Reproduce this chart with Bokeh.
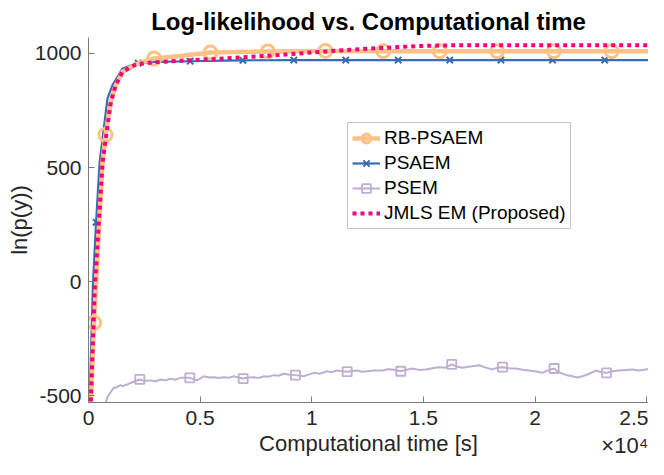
from bokeh.plotting import figure
from bokeh.models import Range1d, FixedTicker, Legend, LegendItem, LinearAxis
from bokeh.embed import file_html
from bokeh.resources import INLINE

# ---------------- data ----------------
title_text = "Log-likelihood vs. Computational time"
x_label = "Computational time [s]"
y_label = "ln(p(y))"
x_ticks = [0, 5000, 10000, 15000, 20000, 25000]
x_tick_labels = ["0", "0.5", "1", "1.5", "2", "2.5"]
x_exponent_label = "×10⁴"
y_ticks = [-500, 0, 500, 1000]
y_tick_labels = ["-500", "0", "500", "1000"]
series_names = ["RB-PSAEM", "PSAEM", "PSEM", "JMLS EM (Proposed)"]

# RB-PSAEM
rb_t = [95, 250, 450, 627, 760, 999, 1223, 1523, 2119, 2940, 4200, 5460, 8030, 10610,
        13200, 15730, 18300, 20840, 23430, 26000]
rb_y = [-560, -181, 200, 519, 643, 788, 861, 920, 952, 978, 990, 1004, 1009, 1011,
        1010, 1010, 1010, 1010, 1010, 1010]
rb_mark_t = [250, 760, 2940, 5460, 8030, 10610, 13200, 15730, 18300, 20840, 23430]
rb_mark_y = [-181, 643, 978, 1004, 1009, 1011, 1010, 1010, 1010, 1010, 1010]

# PSAEM
ps_t = [40, 200, 340, 500, 851, 1075, 1522, 2225, 3000, 4553, 6915, 9195, 11520,
        13870, 16180, 18470, 20780, 23120, 25400, 26000]
ps_y = [-560, -10, 260, 525, 803, 861, 934, 958, 963, 966, 970, 971, 971,
        971, 971, 971, 971, 971, 971, 971]
ps_mark_t = [340, 2225, 4553, 6915, 9195, 11520, 13870, 16180, 18470, 20780, 23120, 25400]
ps_mark_y = [260, 958, 966, 970, 971, 971, 971, 971, 971, 971, 971, 971]

# PSEM
psem_t = [720, 837, 927, 1133, 1223, 1433, 1522, 1733, 1823, 2029, 2297, 2500, 2777, 3000,
          3224, 3450, 3672, 3900, 4120, 4537, 4868, 5163, 5400, 5611, 5800, 6059, 6300,
          6507, 6928, 7150, 7403, 7600, 7851, 8050, 8299, 8500, 8746, 9000, 9270, 9642,
          9850, 10090, 10350, 10690, 10900, 11137, 11585, 11800, 12033, 12250, 12480,
          12800, 13166, 13400, 13614, 13986, 14250, 14510, 14800, 15105, 15400, 15704,
          15950, 16269, 16500, 16748, 17100, 17496, 17800, 18092, 18300, 18540, 18850,
          19136, 19450, 19735, 20050, 20331, 20600, 20855, 21050, 21227, 21450, 21675,
          21900, 22123, 22400, 22719, 22950, 23198, 23450, 23765, 24050, 24361, 24650,
          24957, 25250, 25526, 25800]
psem_y = [-545, -509, -494, -465, -465, -454, -458, -451, -447, -439, -429, -436, -433, -437,
          -429, -433, -426, -430, -422, -422, -433, -415, -420, -419, -423, -419, -421,
          -415, -425, -420, -419, -423, -415, -417, -410, -413, -404, -408, -410, -415,
          -408, -400, -404, -393, -397, -390, -395, -392, -390, -395, -393,
          -390, -390, -384, -385, -393, -386, -381, -387, -385, -380, -375,
          -378, -363, -372, -378, -372, -367, -377, -385, -378, -375, -380,
          -381, -386, -390, -394, -400, -388, -381, -397, -404, -411, -415,
          -420, -415, -405, -390, -397, -400, -393, -390, -388, -385, -390,
          -385, -383, -385, -388]
psem_mark_t = [2297, 4537, 6928, 9270, 11585, 13986, 16269, 18540, 20855, 23198, 25526]
psem_mark_y = [-429, -422, -425, -410, -395, -393, -363, -375, -381, -400, -385]

# JMLS EM (Proposed)
jm_t = [90, 282, 627, 999, 1223, 1523, 2119, 3000, 4120, 5500, 7255, 8500, 10390,
        11700, 13080, 14870, 16500, 26000]
jm_y = [-560, -28, 519, 788, 861, 920, 952, 962, 968, 975, 985, 993, 1007,
        1016, 1024, 1033, 1036, 1036]

# ---------------- styles ----------------
C_ORANGE = "#fdc086"
C_BLUE = "#386cb0"
C_PURPLE = "#beaed4"
C_MAGENTA = "#f0027f"
FONT = "Liberation Sans"
TXT = "#262626"
AX = "#7a7a7a"
EXP_POS = 24050  # where the exponent text sits along x

p = figure(width=648, height=459, output_backend="svg", toolbar_location=None,
           x_range=Range1d(0, 25080), y_range=Range1d(-530, 1070),
           min_border_left=88, min_border_right=0, min_border_top=37, min_border_bottom=57)
p.outline_line_color = None
p.background_fill_color = "white"
p.border_fill_color = "white"
p.xgrid.visible = False
p.ygrid.visible = False

p.title.text = title_text
p.title.align = "center"
p.title.offset = 7
p.title.text_font = FONT
p.title.text_font_size = "24px"
p.title.text_font_style = "bold"
p.title.text_color = "black"
p.title.standoff = 5

for ax in (p.xaxis[0], p.yaxis[0]):
    ax.axis_line_color = AX
    ax.major_tick_line_color = AX
    ax.major_tick_in = 6
    ax.major_tick_out = 0
    ax.minor_tick_line_color = None
    ax.major_label_text_font = FONT
    ax.major_label_text_font_size = "21px"
    ax.major_label_text_color = TXT
    ax.axis_label_text_font = FONT
    ax.axis_label_text_font_size = "22px"
    ax.axis_label_text_font_style = "normal"
    ax.axis_label_text_color = TXT

p.xaxis.ticker = FixedTicker(ticks=x_ticks)
p.xaxis.major_label_overrides = dict(zip(x_ticks, x_tick_labels))
p.yaxis.ticker = FixedTicker(ticks=y_ticks)
p.yaxis.major_label_overrides = dict(zip(y_ticks, y_tick_labels))
p.yaxis.axis_label = y_label
p.xaxis.major_label_standoff = 8
p.yaxis.major_label_standoff = 7
p.yaxis.axis_label_standoff = 0

# second bottom axis: carries the exponent text and the x-axis title
xa2 = LinearAxis(ticker=FixedTicker(ticks=[EXP_POS]),
                 major_label_overrides={EXP_POS: x_exponent_label},
                 axis_label=x_label)
xa2.axis_line_color = None
xa2.major_tick_line_color = None
xa2.minor_tick_line_color = None
xa2.major_tick_in = 0
xa2.major_tick_out = 0
xa2.major_label_text_font = FONT
xa2.major_label_text_font_size = "22px"
xa2.major_label_text_color = TXT
xa2.major_label_standoff = 5
xa2.axis_label_text_font = FONT
xa2.axis_label_text_font_size = "22px"
xa2.axis_label_text_font_style = "normal"
xa2.axis_label_text_color = TXT
xa2.axis_label_standoff = -30
p.add_layout(xa2, "below")

# PSEM
psem_line = p.line(psem_t, psem_y, line_color=C_PURPLE, line_width=2)
psem_mark = p.scatter(psem_mark_t, psem_mark_y, marker="square", size=9,
                      fill_color=None, line_color=C_PURPLE, line_width=1.8)
# PSAEM
ps_line = p.line(ps_t, ps_y, line_color=C_BLUE, line_width=2.2, line_join="round")
ps_mark = p.scatter(ps_mark_t, ps_mark_y, marker="x", size=9,
                    line_color=C_BLUE, line_width=2)
# RB-PSAEM
rb_line = p.line(rb_t, rb_y, line_color=C_ORANGE, line_width=4.5, line_join="round")
rb_mark = p.scatter(rb_mark_t, rb_mark_y, marker="circle", size=13,
                    fill_color=None, line_color=C_ORANGE, line_width=3)
# JMLS EM
jm_line = p.line(jm_t, jm_y, line_color=C_MAGENTA, line_width=4, line_dash="4 4")

legend = Legend(items=[
    LegendItem(label=series_names[0], renderers=[rb_line, rb_mark]),
    LegendItem(label=series_names[1], renderers=[ps_line, ps_mark]),
    LegendItem(label=series_names[2], renderers=[psem_line, psem_mark]),
    LegendItem(label=series_names[3], renderers=[jm_line]),
], location=(259, 173))
legend.label_text_font = FONT
legend.label_text_font_size = "19px"
legend.label_text_color = "black"
legend.label_height = 22
legend.glyph_height = 22
legend.glyph_width = 28
legend.label_standoff = 4
legend.spacing = 3
legend.padding = 4
legend.margin = 0
legend.border_line_color = "#8c8c8c"
legend.border_line_width = 1
legend.background_fill_color = "white"
legend.background_fill_alpha = 1
p.add_layout(legend, "center")

open("out.html", "w").write(file_html(p, INLINE))
